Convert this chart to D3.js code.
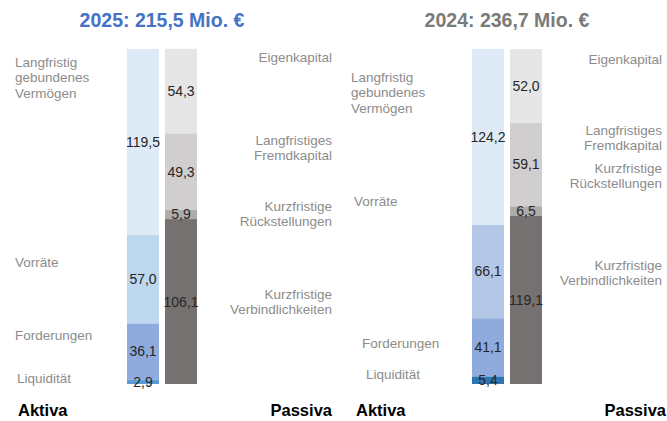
<!DOCTYPE html>
<html>
<head>
<meta charset="utf-8">
<script src="https://cdn.jsdelivr.net/npm/d3@7"></script>
<style>
  body { margin: 0; background: #fff; }
  svg { display: block; font-family: "Liberation Sans", Arial, sans-serif; }
</style>
</head>
<body>
<svg id="chart" width="667" height="421"></svg>
<script>
// bilanz 2025 vs 2024, bottom -> top
const aktivaCats = ["Liquidität", "Forderungen", "Vorräte", "Langfristig gebundenes Vermögen"]
const passivaCats = ["Kurzfristige Verbindlichkeiten", "Kurzfristige Rückstellungen", "Langfristiges Fremdkapital", "Eigenkapital"]
const years = ["2025", "2024"]
const totals = [215.5, 236.7]
const aktiva2025 = [2.9, 36.1, 57.0, 119.5]
const passiva2025 = [106.1, 5.9, 49.3, 54.3]
const aktiva2024 = [5.4, 41.1, 66.1, 124.2]
const passiva2024 = [119.1, 6.5, 59.1, 52.0]

const aktivaColors = [["#5b9bd5", "#8faadc", "#bdd7ee", "#deebf7"], ["#2e75b6", "#8faadc", "#b4c7e7", "#deebf7"]]
const passivaColors = ["#767171", "#aeabab", "#d0cece", "#e7e6e6"]

// hand placed category labels (first line centre y), like in the excel original
const labelPos = [
  { ax: [17, 15, 15, 15], ay: [378, 335, 262, 62], px: 332, py: [294, 206, 140, 57] },
  { ax: [366, 362, 354, 351], ay: [374, 343, 201, 77], px: 662, py: [265, 168, 130, 59] }
]
const titleColors = ["#4472c4", "#7a7a7a"]
const panelShift = [0, 345]
const lineH = 15.5

const svg = d3.select('#chart')
const fmt = v => d3.format('.1f')(v).replace('.', ',')

const x = d3.scaleBand()
  .domain(["Aktiva", "Passiva"])
  .range([127, 197])
  .paddingInner(6 / 38)

const panels = [
  { aktiva: aktiva2025, passiva: passiva2025 },
  { aktiva: aktiva2024, passiva: passiva2024 }
]

panels.forEach((p, i) => {
  const g = svg.append('g').attr('transform', `translate(${panelShift[i]},0)`)
  const y = d3.scaleLinear().domain([0, totals[i]]).range([384, 49])

  const cols = [
    { key: "Aktiva", vals: p.aktiva, colors: aktivaColors[i] },
    { key: "Passiva", vals: p.passiva, colors: passivaColors }
  ]

  cols.forEach(c => {
    const ends = Array.from(d3.cumsum(c.vals))
    const segs = c.vals.map((v, j) => ({ v, y0: ends[j] - v, y1: ends[j], color: c.colors[j] }))

    g.selectAll(null)
      .data(segs)
      .enter()
      .append('rect')
      .attr('x', x(c.key))
      .attr('width', x.bandwidth())
      .attr('y', d => y(d.y1))
      .attr('height', d => y(d.y0) - y(d.y1))
      .attr('fill', d => d.color)

    g.selectAll(null)
      .data(segs)
      .enter()
      .append('text')
      .attr('x', x(c.key) + x.bandwidth() / 2)
      .attr('y', d => y((d.y0 + d.y1) / 2))
      .attr('text-anchor', 'middle')
      .attr('dominant-baseline', 'central')
      .attr('font-size', 14)
      .attr('fill', '#262626')
      .text(d => fmt(d.v))
  })

  // category labels
  const lp = labelPos[i]
  const catLabel = (text, xx, yy, anchor) => {
    const words = text === "Langfristig gebundenes Vermögen" ? ["Langfristig", "gebundenes", "Vermögen"] : text.split(' ')
    const t = svg.append('text')
      .attr('text-anchor', anchor)
      .attr('font-size', 13.5)
      .attr('fill', '#8c8c8c')
    words.forEach((w, k) => {
      t.append('tspan')
        .attr('x', xx)
        .attr('y', yy + k * lineH)
        .attr('dominant-baseline', 'central')
        .text(w)
    })
  }
  aktivaCats.forEach((c, j) => catLabel(c, lp.ax[j], lp.ay[j], 'start'))
  passivaCats.forEach((c, j) => catLabel(c, lp.px, lp.py[j], 'end'))

  // title
  g.append('text')
    .attr('x', 162)
    .attr('y', 20)
    .attr('text-anchor', 'middle')
    .attr('dominant-baseline', 'central')
    .attr('font-size', 19.5)
    .attr('font-weight', 'bold')
    .attr('fill', titleColors[i])
    .text(`${years[i]}: ${fmt(totals[i])} Mio. €`)

  // Aktiva / Passiva footer
  svg.append('text')
    .attr('x', i === 0 ? 18 : 356)
    .attr('y', 410)
    .attr('dominant-baseline', 'central')
    .attr('font-size', 16.5)
    .attr('font-weight', 'bold')
    .attr('fill', '#000')
    .text("Aktiva")
  svg.append('text')
    .attr('x', i === 0 ? 332 : 666)
    .attr('y', 410)
    .attr('text-anchor', 'end')
    .attr('dominant-baseline', 'central')
    .attr('font-size', 16.5)
    .attr('font-weight', 'bold')
    .attr('fill', '#000')
    .text("Passiva")
})
</script>
</body>
</html>
